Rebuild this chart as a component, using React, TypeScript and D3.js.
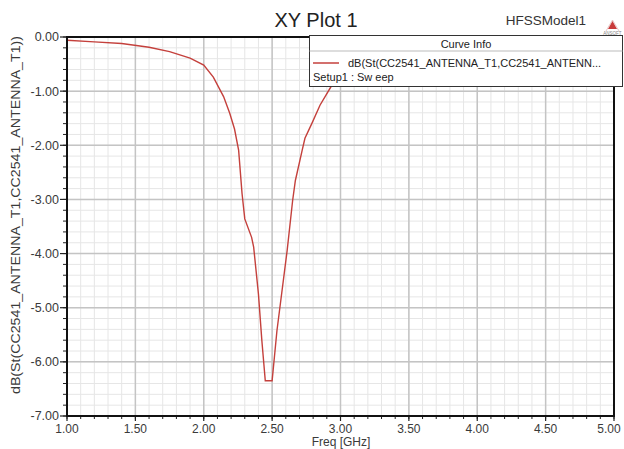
import React from "react";
import * as d3 from "d3";

const freq = [1.0, 1.2, 1.4, 1.6, 1.75, 1.9, 2.0, 2.07, 2.145, 2.19, 2.225, 2.255, 2.28, 2.3, 2.35, 2.365, 2.4, 2.425, 2.45, 2.5, 2.535, 2.61, 2.65, 2.67, 2.72, 2.74, 2.79, 2.85, 2.93, 3.0, 3.1, 3.2];
const dB = [-0.06, -0.09, -0.12, -0.19, -0.27, -0.39, -0.52, -0.74, -1.1, -1.41, -1.7, -2.09, -2.89, -3.36, -3.7, -3.88, -4.75, -5.61, -6.35, -6.35, -5.43, -3.94, -3.02, -2.65, -2.09, -1.87, -1.6, -1.26, -0.92, -0.75, -0.6, -0.5];
const xTicks = [1.0, 1.5, 2.0, 2.5, 3.0, 3.5, 4.0, 4.5, 5.0];
const yTicks = [0, -1, -2, -3, -4, -5, -6, -7];
const title = "XY Plot 1";
const modelName = "HFSSModel1";
const yLabel = "dB(St(CC2541_ANTENNA_T1,CC2541_ANTENNA_T1))";
const xLabel = "Freq [GHz]";
const legendTitle = "Curve Info";
const legendName = "dB(St(CC2541_ANTENNA_T1,CC2541_ANTENN...";
const legendSetup = "Setup1 : Sw eep";

export default function App() {
  const W = 624, H = 449;
  const x = d3.scaleLinear().domain([1, 5]).range([67, 614]);
  const y = d3.scaleLinear().domain([-7, 0]).range([416, 37]);
  const minorX = d3.range(1, 5.0001, 0.1);
  const minorY = d3.range(-7, 0.0001, 0.2);
  const line = d3.line<number>().x((_, i) => x(freq[i])).y((d) => y(d));
  const font = "'Liberation Sans', Arial, sans-serif";
  const tc = "#3a3a3a";
  return (
    <svg width={W} height={H} style={{ position: "absolute", left: 0, top: 0, background: "#fff" }} fontFamily={font}>
      <rect x={0} y={0} width={W} height={H} fill="#fff" />
      {minorX.map((v, i) => (
        <line key={"mx" + i} x1={x(v)} x2={x(v)} y1={y(0)} y2={y(-7)} stroke="#e6e6e6" strokeWidth={1} />
      ))}
      {minorY.map((v, i) => (
        <line key={"my" + i} x1={x(1)} x2={x(5)} y1={y(v)} y2={y(v)} stroke="#e6e6e6" strokeWidth={1} />
      ))}
      {xTicks.map((v) => (
        <line key={"gx" + v} x1={x(v)} x2={x(v)} y1={y(0)} y2={y(-7)} stroke="#c4c4c4" strokeWidth={1.5} />
      ))}
      {yTicks.map((v) => (
        <line key={"gy" + v} x1={x(1)} x2={x(5)} y1={y(v)} y2={y(v)} stroke="#c4c4c4" strokeWidth={1.5} />
      ))}
      <path d={line(dB) || ""} fill="none" stroke="#c4403c" strokeWidth={1.4} />
      {minorY.map((v, i) => (
        <line key={"tmy" + i} x1={x(1) - 4} x2={x(1)} y1={y(v)} y2={y(v)} stroke="#222" strokeWidth={1} />
      ))}
      {minorX.map((v, i) => (
        <line key={"tmx" + i} x1={x(v)} x2={x(v)} y1={y(-7)} y2={y(-7) + 3} stroke="#222" strokeWidth={1} />
      ))}
      {yTicks.map((v) => (
        <line key={"tyy" + v} x1={x(1) - 7} x2={x(1)} y1={y(v)} y2={y(v)} stroke="#222" strokeWidth={1.2} />
      ))}
      {xTicks.map((v) => (
        <line key={"txx" + v} x1={x(v)} x2={x(v)} y1={y(-7)} y2={y(-7) + 5} stroke="#222" strokeWidth={1.2} />
      ))}
      <rect x={x(1)} y={y(0)} width={x(5) - x(1)} height={y(-7) - y(0)} fill="none" stroke="#111" strokeWidth={2} />
      {yTicks.map((v) => (
        <text key={"ly" + v} x={59} y={y(v)} dy="0.35em" textAnchor="end" fontSize={12.5} fill={tc}>
          {v.toFixed(2)}
        </text>
      ))}
      {xTicks.map((v) => (
        <text key={"lx" + v} x={Math.min(x(v), W - 15)} y={433} textAnchor="middle" fontSize={12} fill={tc}>
          {v.toFixed(2)}
        </text>
      ))}
      <text x={341} y={446} textAnchor="middle" fontSize={12} fill={tc}>{xLabel}</text>
      <text transform={`translate(20,215) rotate(-90)`} textAnchor="middle" fontSize={12.5} textLength={358} lengthAdjust="spacingAndGlyphs" fill={tc}>{yLabel}</text>
      <text x={316} y={27} textAnchor="middle" fontSize={20} fill="#222">{title}</text>
      <text x={546} y={25} textAnchor="middle" fontSize={13.5} fill="#333">{modelName}</text>
      <path d="M608,29 L612.5,21 L617,29 Z" fill="#c83a3a" />
      <path d="M606,31 L612.5,20 L619,31" fill="none" stroke="#d9a0a0" strokeWidth={0.6} />
      <text x={612.5} y={35} textAnchor="middle" fontSize={4.5} fill="#888">ANSOFT</text>
      <rect x={309.5} y={35.5} width={313} height={51} fill="#fff" stroke="#333" strokeWidth={1} />
      <line x1={309.5} x2={622.5} y1={51} y2={51} stroke="#bbb" strokeWidth={1} />
      <text x={466} y={44} dy="0.35em" textAnchor="middle" fontSize={11} fill="#222">{legendTitle}</text>
      <line x1={313} x2={339} y1={63} y2={63} stroke="#c4403c" strokeWidth={1.5} />
      <text x={348} y={63} dy="0.35em" fontSize={11} fill="#222">{legendName}</text>
      <text x={313} y={77} dy="0.35em" fontSize={11} fill="#222">{legendSetup}</text>
    </svg>
  );
}
